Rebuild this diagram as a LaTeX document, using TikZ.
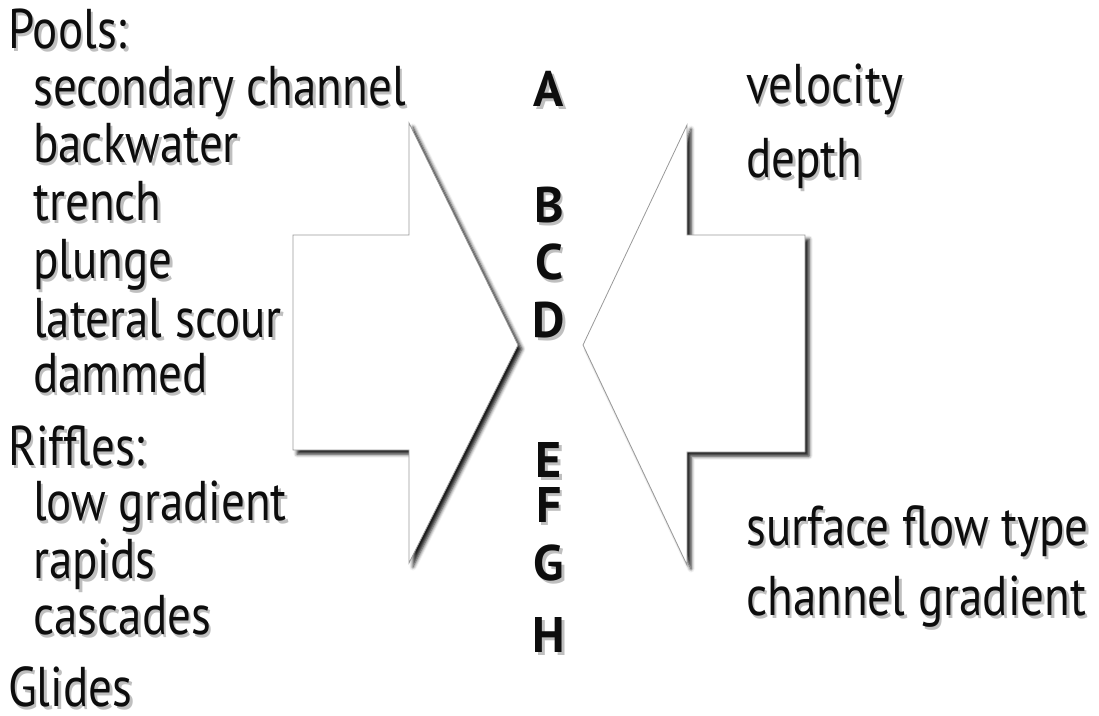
\documentclass[tikz,border=0pt]{standalone}
\usepackage{fontspec}
\setmainfont[FakeStretch=0.84]{PT Sans}
\newfontfamily\letfont{PT Sans}
\usetikzlibrary{shadows.blur}
\tikzset{
  lbl/.style={anchor=base west, inner sep=0pt, font=\fontsize{56}{60}\selectfont, text=black!95},
  letr/.style={anchor=base, inner sep=0pt, font=\letfont\bfseries\fontsize{50}{54}\selectfont, text=black!95},
  shB/.style={text=black!25, xshift=2.5pt, yshift=-3pt},
  bigarrow/.style={fill=white, draw=black!40, line width=0.8pt,
    blur shadow={shadow xshift=4pt, shadow yshift=-4pt, shadow blur radius=3.5pt, shadow opacity=90}}
}
\newcommand\stxt[4][lbl]{%
  \node[#1,shB] at (#3) {#4};
  \node[#1] (#2) at (#3) {#4};}
\begin{document}
\begin{tikzpicture}[x=1pt,y=-1pt]
\useasboundingbox (0,0) rectangle (1099,715);
% arrows
\draw[bigarrow] (293,235) -- (409,235) -- (409,123) -- (518,345) -- (409,563) -- (409,450) -- (293,450) -- cycle;
\draw[bigarrow] (805,235) -- (687,235) -- (687,125) -- (583,345) -- (687,565) -- (687,452) -- (805,452) -- cycle;
% left texts
\stxt{pools}{8,48}{Pools:}
\stxt{sec}{33,105}{secondary channel}
\stxt{back}{33,162}{backwater}
\stxt{trench}{33,220}{trench}
\stxt{plunge}{33,278}{plunge}
\stxt{lat}{33,337}{lateral scour}
\stxt{dam}{33,392}{dammed}
\stxt{riffles}{8,465}{Riffles:}
\stxt{low}{33,520}{low gradient}
\stxt{rapids}{33,578}{rapids}
\stxt{casc}{33,634}{cascades}
\stxt[lbl,text depth=0pt]{glides}{8,706}{Glides}
% letters
\stxt[letr]{la}{549,106}{A}
\stxt[letr]{lb}{549,222}{B}
\stxt[letr]{lc}{549,279}{C}
\stxt[letr]{ld}{549,337}{D}
\stxt[letr]{le}{549,477}{E}
\stxt[letr]{lf}{549,522}{F}
\stxt[letr]{lg}{549,580}{G}
\stxt[letr]{lh}{549,652}{H}
% right texts
\stxt{vel}{746,103}{velocity}
\stxt{depth}{746,177}{depth}
\stxt{surf}{746,545}{surface flow type}
\stxt{chan}{746,615}{channel gradient}
\end{tikzpicture}
\end{document}
